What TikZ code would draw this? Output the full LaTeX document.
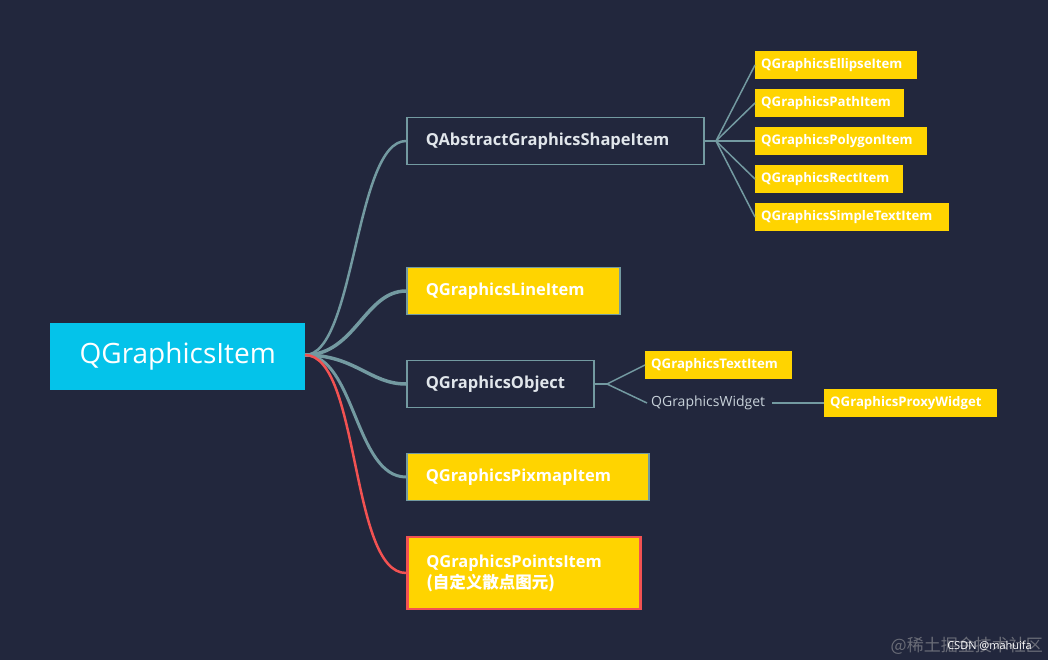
\documentclass[tikz,border=0pt]{standalone}
\usepackage{fontspec}
\setmainfont{Open Sans}
\newfontfamily\cjk{Noto Sans CJK SC}
\begin{document}
\begin{tikzpicture}[x=1pt,y=-1pt,
  line/.style={draw=lnk,line width=1.5pt},
  big/.style={rectangle,minimum height=47pt,anchor=west,inner ysep=0pt,inner xsep=19pt,align=left,font=\fontsize{16.5}{21}\selectfont\bfseries,text=white,line width=1.5pt},
  small/.style={rectangle,fill=yel,anchor=west,minimum height=28pt,inner ysep=0pt,inner xsep=6pt,align=left,text=white,font=\fontsize{13.2}{15}\selectfont\bfseries}]
\definecolor{bg}{HTML}{22273D}
\definecolor{lnk}{HTML}{739AA1}
\definecolor{yel}{HTML}{FFD400}
\definecolor{rd}{HTML}{F25252}
\fill[bg] (0,0) rectangle (1048,660);
\useasboundingbox (0,0) rectangle (1048,660);
\node[rectangle,fill={rgb,255:red,4;green,195;blue,234},minimum width=255pt,minimum height=67pt,anchor=north west,text=white,font=\fontsize{28}{32}\selectfont] (root) at (50,323) {QGraphicsItem};
\node[big,draw=lnk,fill=bg,text={rgb,255:red,225;green,230;blue,235},text width=259pt] (shape) at (406,141) {QAbstractGraphicsShapeItem};
\node[big,draw=lnk,fill=yel,text width=175pt] (line) at (406,291) {QGraphicsLineItem};
\node[big,draw=lnk,fill=bg,text={rgb,255:red,225;green,230;blue,235},text width=149pt] (obj) at (406,384) {QGraphicsObject};
\node[big,draw=rd!0!lnk,fill=yel,text width=204pt] (pix) at (406,477) {QGraphicsPixmapItem};
\node[big,draw=rd,line width=2.5pt,fill=yel,text width=195pt,minimum height=72pt] (pts) at (406,573) {QGraphicsPointsItem\\{\cjk\bfseries (自定义散点图元)}};
\node[small,text width=150pt] (e) at (755,65) {QGraphicsEllipseItem};
\node[small,text width=137pt] (p) at (755,103) {QGraphicsPathItem};
\node[small,text width=160pt] (g) at (755,141) {QGraphicsPolygonItem};
\node[small,text width=136pt] (r) at (755,179) {QGraphicsRectItem};
\node[small,text width=182pt] (s) at (755,217) {QGraphicsSimpleTextItem};
\node[small,text width=135pt] (t) at (645,365) {QGraphicsTextItem};
\node[anchor=west,inner sep=0pt,text={rgb,255:red,200;green,210;blue,218},font=\fontsize{14}{16}\selectfont] (w) at (651,403) {QGraphicsWidget};
\node[small,text width=161pt] (x) at (824,403) {QGraphicsProxyWidget};
\node[anchor=south east,inner sep=0pt,text=gray!60,font=\cjk\fontsize{17}{20}\selectfont,opacity=0.5] (wm) at (1043,655) {@稀土掘金技术社区};
\node[anchor=south east,inner sep=0pt,text=white,font=\fontsize{11}{12}\selectfont] (cs) at (1032,651) {CSDN @mahuifa};
\coordinate (o) at (305,355);
\draw[draw=lnk,line width=2.5pt] (o) .. controls (355,355) and (355,141) .. (shape.west);
\draw[draw=lnk,line width=3.5pt] (o) .. controls (355,355) and (365,291) .. (line.west);
\draw[draw=lnk,line width=3.5pt] (o) .. controls (355,355) and (370,384) .. (obj.west);
\draw[draw=lnk,line width=3pt] (o) .. controls (355,355) and (355,477) .. (pix.west);
\draw[draw=rd,line width=2.5pt] (o) .. controls (360,355) and (350,573) .. (pts.west);
\coordinate (j1) at (716,141);
\draw[line] (shape.east) -- (j1);
\foreach \n in {e,p,g,r,s} \draw[line] (j1) -- (\n.west);
\coordinate (j2) at (607,384);
\draw[line] (obj.east) -- (j2);
\draw[line] (j2) -- (t.west);
\draw[line] (j2) -- ([xshift=-4pt]w.west);
\draw[line] ([xshift=7pt]w.east) -- (x.west);
\end{tikzpicture}
\end{document}
